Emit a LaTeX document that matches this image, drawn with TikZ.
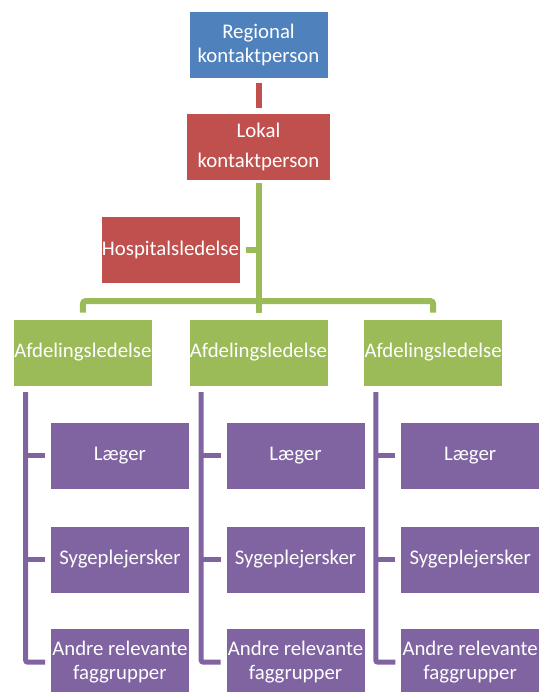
\documentclass[tikz,border=0pt]{standalone}
\usepackage{fontspec}
\setmainfont{Carlito}
\usetikzlibrary{positioning}
\definecolor{blaaBoks}{RGB}{79,129,189}
\definecolor{roedBoks}{RGB}{192,80,77}
\definecolor{groenBoks}{RGB}{155,187,89}
\definecolor{lillaBoks}{RGB}{128,100,162}
\tikzset{
  boks/.style={rectangle, draw=white, line width=0.6pt, text=white,
               minimum width=139pt, minimum height=67pt, inner sep=0pt,
               align=center, font=\fontsize{20.8}{24}\selectfont},
  blaaboks/.style={boks, fill=blaaBoks},
  roedboks/.style={boks, fill=roedBoks},
  groenboks/.style={boks, fill=groenBoks},
  lillaboks/.style={boks, fill=lillaBoks},
  roedlinje/.style={draw=roedBoks, line width=6pt, shorten <=5pt, shorten >=5pt},
  groenlinje/.style={draw=groenBoks, line width=6pt, rounded corners=3pt},
  lillalinje/.style={draw=lillaBoks, line width=5pt, rounded corners=2pt},
}

\begin{document}
\begin{tikzpicture}[x=1pt, y=-1pt]
  \useasboundingbox (0,0) rectangle (543,692);
  % ledelse
  \node[blaaboks] (regional) at (258.5,44.5) {Regional\\kontaktperson};
  \node[roedboks, minimum width=144pt, below=35pt of regional] (lokal)
       {Lokal\\[6pt]kontaktperson};
  \node[roedboks, below=35pt of lokal, xshift=-88pt] (hosp) {Hospitalsledelse};
  % afdelinger
  \node[groenboks, below=35pt of hosp, xshift=88pt] (afd2) {Afdelingsledelse};
  \node[groenboks, left=36pt of afd2] (afd1) {Afdelingsledelse};
  \node[groenboks, right=35pt of afd2] (afd3) {Afdelingsledelse};
  \foreach \i in {1,2,3} {
    \node[lillaboks, below=36pt of afd\i, xshift=37pt] (laeger\i) {Læger};
    \node[lillaboks, below=36pt of laeger\i] (syge\i) {Sygeplejersker};
    \node[lillaboks, below=35pt of syge\i] (andre\i) {Andre relevante\\faggrupper};
  }
  % forbindelser
  \draw[roedlinje] (regional) -- (lokal);
  \draw[groenlinje, shorten <=2pt, shorten >=6pt] (lokal) -- (afd2);
  \draw[groenlinje, shorten <=6pt] (hosp.east) -- (hosp.east -| lokal.south);
  \draw[groenlinje, shorten <=6pt, shorten >=6pt]
       (afd1.north) |- ([yshift=17.5pt]afd2.north) -| (afd3.north);
  \foreach \i in {1,2,3} {
    \coordinate (rod\i) at ([xshift=12.5pt]afd\i.south west);
    \draw[lillalinje, shorten <=6pt, shorten >=5pt] (rod\i) |- (andre\i.west);
    \draw[lillalinje, shorten >=5pt] (rod\i |- laeger\i.west) -- (laeger\i.west);
    \draw[lillalinje, shorten >=5pt] (rod\i |- syge\i.west) -- (syge\i.west);
  }
\end{tikzpicture}
\end{document}
